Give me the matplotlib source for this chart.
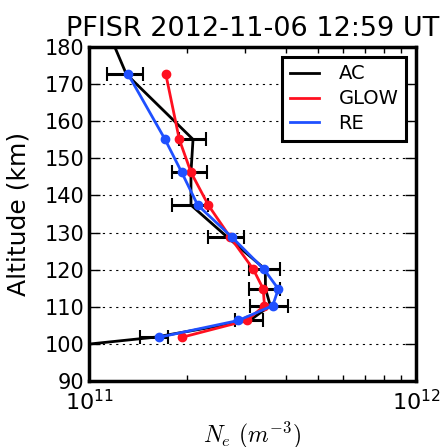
import numpy as np
import matplotlib
matplotlib.use('Agg')
import matplotlib.pyplot as plt
from matplotlib.ticker import NullFormatter

# altitudes (km) and densities (1e11 m^-3)
alt = [172.7, 155.1, 146.2, 137.4, 128.8, 120.1, 114.8, 110.3, 106.3, 101.8]
ac_ne = [1.30, 2.08, 2.05, 2.05, 2.645, 3.46, 3.465, 3.585, 3.10, 1.59]
ac_err = [0.167, 0.196, 0.251, 0.258, 0.334, 0.377, 0.375, 0.485, 0.31, 0.158]
glow_ne = [1.717, 1.888, 2.051, 2.316, 2.70, 3.18, 3.41, 3.44, 3.036, 1.929]
re_ne = [1.316, 1.708, 1.921, 2.149, 2.732, 3.428, 3.793, 3.646, 2.861, 1.641]
# AC profile continues beyond the plotted range
ac_top = (185.0, 1.134)
ac_bot = (98.0, 0.615)

scale = 1e11
ac_alt_line = [ac_top[0]] + alt + [ac_bot[0]]
ac_line = np.array([ac_top[1]] + ac_ne + [ac_bot[1]]) * scale
red = '#ff1020'
blue = '#1f50ff'

fig = plt.figure(figsize=(4.43, 4.47), dpi=100)
ax = fig.add_axes([0.201, 0.1477, 0.738, 0.7472])

ax.plot(ac_line, ac_alt_line, color='k', lw=2, label='AC')
ax.errorbar(np.array(ac_ne) * scale, alt, xerr=np.array(ac_err) * scale,
            fmt='none', ecolor='k', elinewidth=2.2, capsize=5, capthick=1.5)
ax.plot(np.array(glow_ne) * scale, alt, color=red, lw=2, label='GLOW')
ax.plot(np.array(glow_ne) * scale, alt, 'o', color=red, ms=6)
ax.plot(np.array(re_ne) * scale, alt, color=blue, lw=2, label='RE')
ax.plot(np.array(re_ne) * scale, alt, 'o', color=blue, ms=6)

ax.set_xscale('log')
ax.set_xlim(1e11, 1e12)
ax.set_ylim(90, 180)
ax.set_yticks(range(90, 181, 10))
ax.xaxis.set_minor_formatter(NullFormatter())
ax.yaxis.grid(True, color='k', linestyle=(0, (2, 4)), lw=0.8)
ax.tick_params(axis='both', which='both', direction='in', top=True, right=True,
               labelsize=15)
ax.tick_params(axis='x', which='major', labelsize=16, pad=6)
ax.tick_params(axis='both', which='major', length=8, width=1)
ax.tick_params(axis='both', which='minor', length=4, width=1)
for s in ax.spines.values():
    s.set_linewidth(2.5)

ax.set_title('PFISR 2012-11-06 12:59 UT', fontsize=19.5, pad=8)
ax.set_ylabel('Altitude (km)', fontsize=18, labelpad=10)
ax.set_xlabel(r'$N_e\ (m^{-3})$', fontsize=17, math_fontfamily='cm')

leg = ax.legend(loc='upper right', fontsize=14, handlelength=1.5,
                handletextpad=1.0, fancybox=False, framealpha=1,
                edgecolor='k', borderpad=0.4, labelspacing=0.3,
                borderaxespad=0.5)
leg.get_frame().set_linewidth(2.2)

fig.savefig('out.png', dpi=100)
